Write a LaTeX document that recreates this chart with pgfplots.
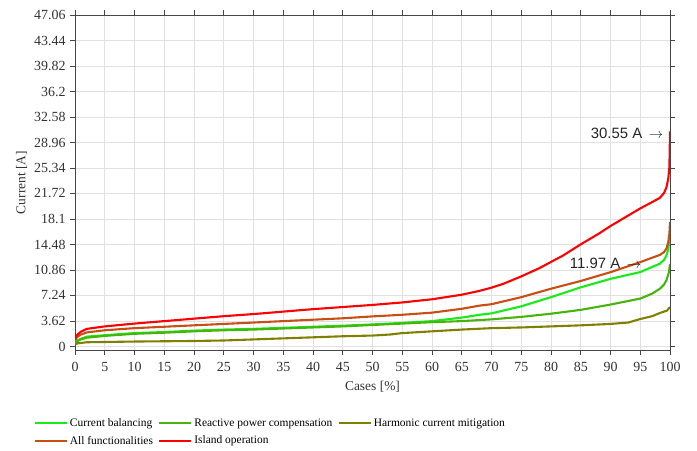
\documentclass[border=0pt]{standalone}
\usepackage{fontspec}
\setmainfont{Liberation Serif}
\newfontfamily\arialf{Liberation Sans}
\usepackage{pgfplots}
\pgfplotsset{compat=1.18}
\definecolor{cbal}{RGB}{24,236,24}
\definecolor{rpc}{RGB}{70,180,10}
\definecolor{hcm}{RGB}{128,128,0}
\definecolor{allf}{RGB}{200,78,20}
\definecolor{isl}{RGB}{255,0,0}
\definecolor{axgray}{RGB}{70,70,70}
\definecolor{gridgray}{RGB}{225,225,225}
\begin{document}
\begin{tikzpicture}[x=1bp,y=1bp]
\useasboundingbox (0,0) rectangle (697,451);
\begin{axis}[
  at={(75bp,101bp)}, anchor=south west,
  scale only axis, width=595bp, height=335bp,
  xmin=0, xmax=100, ymin=-0.5, ymax=47.06,
  xtick={0,5,...,100},
  ytick={0,3.62,7.24,10.86,14.48,18.1,21.72,25.34,28.96,32.58,36.2,39.82,43.44,47.06},
  yticklabels={0,3.62,7.24,10.86,14.48,18.1,21.72,25.34,28.96,32.58,36.2,39.82,43.44,47.06},
  /pgf/number format/assume math mode=true,
  tick label style={font=\fontsize{14}{16}\selectfont, text=black!80},
  label style={font=\fontsize{13.5}{15}\selectfont, text=black!80},
  xlabel={Cases [\%]}, ylabel={Current [A]},
  xlabel style={yshift=-2bp},
  ylabel style={yshift=0bp},
  grid=major, major grid style={gridgray, line width=0.8bp},
  axis line style={axgray, line width=0.8bp},
  tick style={axgray, line width=0.7bp},
  tick align=outside, major tick length=5bp,
  xticklabel style={yshift=-4bp},
  yticklabel style={xshift=-1bp},
  legend columns=3,
  legend cell align=left,
  legend style={at={(-0.07,-0.198)}, anchor=north west, draw=none, fill=none, inner sep=0pt,
    font=\fontsize{11.5}{13}\selectfont,
    /tikz/every even column/.append style={column sep=3bp},
    /tikz/row sep=4bp},
  legend image code/.code={\draw[#1, line width=2.4bp] (0bp,0bp) -- (32bp,0bp);},
  every axis plot/.append style={line width=2.1bp, line join=round},
]
\addplot[cbal] coordinates {
(0,0.3) (0.5,0.9) (1,1.1) (2,1.4) (5,1.6) (10,1.9) (15,2.05) (20,2.25) (25,2.4) (30,2.5)
(35,2.65) (40,2.8) (45,2.95) (50,3.13) (55,3.35) (60,3.6) (65,4.1) (68,4.5) (70,4.7)
(75,5.7) (80,7.0) (85,8.4) (90,9.6) (95,10.56) (97,11.3) (98.3,11.75) (99,12.3)
(99.4,12.9) (99.7,13.8) (100,15.5)};
\addlegendentry{Current balancing}
\addplot[rpc] coordinates {
(0,0.3) (0.5,0.8) (1,1.0) (2,1.25) (5,1.5) (10,1.8) (15,1.95) (20,2.15) (25,2.3) (30,2.4)
(35,2.55) (40,2.7) (45,2.85) (50,3.05) (55,3.25) (60,3.45) (65,3.6) (70,3.85) (75,4.2)
(80,4.65) (85,5.2) (90,5.95) (95,6.8) (97,7.5) (98.3,8.2) (99,8.8) (99.4,9.4) (99.8,10.5)
(100,11.7)};
\addlegendentry{Reactive power compensation}
\addplot[hcm] coordinates {
(0,0.3) (0.5,0.45) (2,0.6) (10,0.7) (20,0.78) (25,0.85) (30,1.0) (35,1.15) (40,1.3)
(45,1.45) (50,1.55) (53,1.7) (55,1.9) (60,2.15) (65,2.4) (70,2.6) (75,2.7) (80,2.85)
(85,3.0) (90,3.2) (93,3.4) (95,3.9) (97,4.3) (98.3,4.75) (99.5,5.1) (100,5.6)};
\addlegendentry{Harmonic current mitigation}
\addplot[allf] coordinates {
(0,0.8) (0.3,1.3) (1,1.7) (2,2.0) (5,2.3) (10,2.6) (15,2.8) (20,3.0) (25,3.2) (30,3.4)
(35,3.6) (40,3.8) (45,4.0) (50,4.27) (55,4.5) (60,4.8) (65,5.35) (68,5.8) (70,6.0)
(75,7.0) (80,8.2) (85,9.3) (90,10.55) (95,11.97) (97,12.6) (98.3,13.0) (99,13.4)
(99.4,13.9) (99.7,14.8) (99.9,16) (100,17.7)};
\addlegendentry{All functionalities}
\addplot[isl] coordinates {
(0,1.0) (0.3,1.6) (1,2.1) (2,2.5) (5,2.85) (10,3.25) (15,3.6) (20,3.95) (25,4.3) (30,4.6)
(35,4.95) (40,5.3) (45,5.6) (50,5.9) (55,6.25) (60,6.7) (65,7.35) (68,7.9) (70,8.35)
(72,8.9) (75,9.95) (78,11.1) (80,12.0) (82,12.9) (85,14.5) (88,16.0) (90,17.1) (92,18.1)
(95,19.6) (97,20.5) (98.3,21.1) (99,21.8) (99.4,22.6) (99.7,23.8) (99.9,25.5) (100,30.55)};
\addlegendentry{Island operation}
\node[anchor=east, inner sep=0pt, font=\arialf\fontsize{15}{17}\selectfont, text=black!85] at (axis cs:98.9,30.3) {30.55 A \,$\rightarrow$};
\node[anchor=east, inner sep=0pt, font=\arialf\fontsize{15}{17}\selectfont, text=black!85] at (axis cs:95.2,11.85) {11.97 A \,$\rightarrow$};
\end{axis}
\end{tikzpicture}
\end{document}
